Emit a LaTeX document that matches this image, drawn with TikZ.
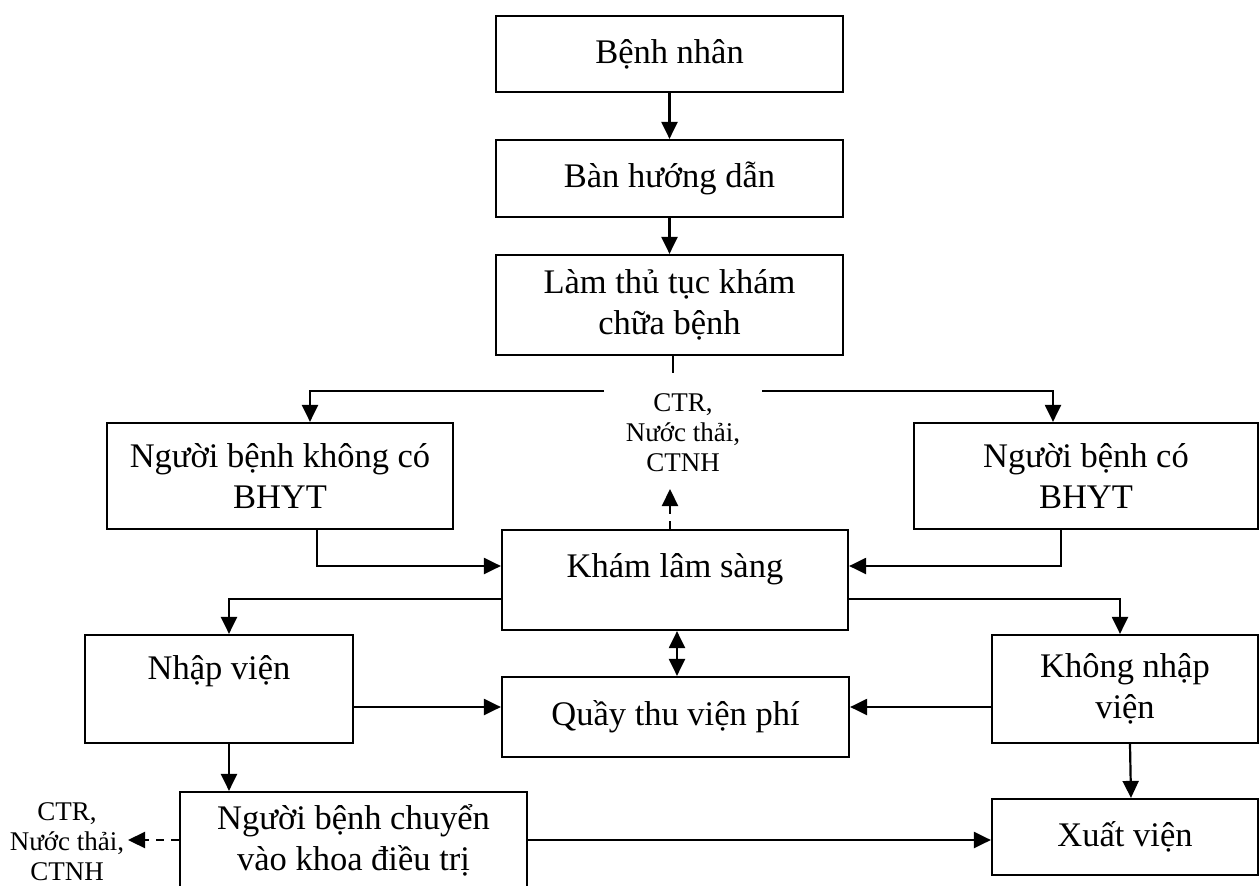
\documentclass[tikz,border=0pt]{standalone}
\usepackage{fontspec}
\setmainfont{Liberation Serif}
\usetikzlibrary{arrows.meta,calc}
\begin{document}
\begin{tikzpicture}[x=1pt,y=-1pt,
  boxfont/.style={font=\fontsize{34.5}{41}\selectfont},
  box/.style={draw, line width=2.2pt, inner sep=0pt, align=center, boxfont},
  note/.style={inner sep=0pt, align=center, font=\fontsize{27}{30}\selectfont},
  conn/.style={line width=2.2pt},
  arr/.style={conn, -{Triangle[length=17pt,width=16pt]}},
  darr/.style={conn, {Triangle[length=17pt,width=16pt]}-{Triangle[length=17pt,width=16pt]}},
  dasharr/.style={arr, dash pattern=on 8pt off 7pt},
]
\useasboundingbox (0,0) rectangle (1259,886);

% process boxes
\node[box, minimum width=347, minimum height=76]  (benh)      at (669.5,54)  {Bệnh nhân};
\node[box, minimum width=347, minimum height=77]  (ban)       at (669.5,178.5) {Bàn hướng dẫn};
\node[box, minimum width=347, minimum height=100] (lam)       at (669.5,305) {Làm thủ tục khám\\chữa bệnh};
\node[box, minimum width=346, minimum height=106] (khongbh)   at (280,476)   {Người bệnh không có\\BHYT};
\node[box, minimum width=344, minimum height=106] (cobh)      at (1086,476)  {Người bệnh có\\BHYT};
\node[box, minimum width=346, minimum height=100,
      label={[boxfont, inner sep=0pt, yshift=11pt]center:Khám lâm sàng}] (kham) at (675,580) {};
\node[box, minimum width=268, minimum height=108,
      label={[boxfont, inner sep=0pt, yshift=18pt]center:Nhập viện}] (nhap) at (219,689) {};
\node[box, minimum width=347, minimum height=80]  (quay)      at (675.5,717) {Quầy thu viện phí};
\node[box, minimum width=266, minimum height=108] (khongnhap) at (1125,689)  {Không nhập\\viện};
\node[box, minimum width=347, minimum height=96]  (chuyen)    at (353.5,840) {Người bệnh chuyển\\vào khoa điều trị};
\node[box, minimum width=266, minimum height=76]  (xuat)      at (1125,837)  {Xuất viện};

% waste outputs
\node[note] (waste1) at (683,433) {CTR,\\Nước thải,\\CTNH};
\node[note] (waste2) at (67,842)  {CTR,\\Nước thải,\\CTNH};

% helper points
\coordinate (stemEnd)   at (673,373);
\coordinate (splitL)    at (604,391);
\coordinate (splitR)    at (762,391);
\coordinate (wasteTop)  at (670,489);
\coordinate (wasteLeft) at (128,840);

% connectors
\draw[arr] (benh) -- (ban);
\draw[arr] (ban) -- (lam);
\draw[conn] (lam.south -| stemEnd) -- (stemEnd);
\draw[arr] (splitL) -| ([xshift=30pt]khongbh.north);
\draw[arr] (splitR) -| ([xshift=-33pt]cobh.north);
\draw[dasharr] (kham.north -| wasteTop) -- (wasteTop);
\draw[arr] ([xshift=37pt]khongbh.south) |- ([yshift=14pt]kham.west);
\draw[arr] ([xshift=-25pt]cobh.south) |- ([yshift=14pt]kham.east);
\draw[arr] ([yshift=-19pt]kham.west) -| ([xshift=10pt]nhap.north);
\draw[arr] ([yshift=-19pt]kham.east) -| ([xshift=-5pt]khongnhap.north);
\draw[darr] ([xshift=2pt]kham.south) -- ([xshift=1.5pt]quay.north);
\draw[arr] ([yshift=-18pt]nhap.east) -- ([yshift=10pt]quay.west);
\draw[arr] ([yshift=-18pt]khongnhap.west) -- ([yshift=10pt]quay.east);
\draw[arr] ([xshift=10pt]nhap.south) -- ([xshift=-124.5pt]chuyen.north);
\draw[arr] ([xshift=5pt]khongnhap.south) -- ([xshift=6pt]xuat.north);
\draw[arr] (chuyen.east) -- (xuat.west |- chuyen.east);
\draw[dasharr] (chuyen.west) -- (wasteLeft);
\end{tikzpicture}
\end{document}
